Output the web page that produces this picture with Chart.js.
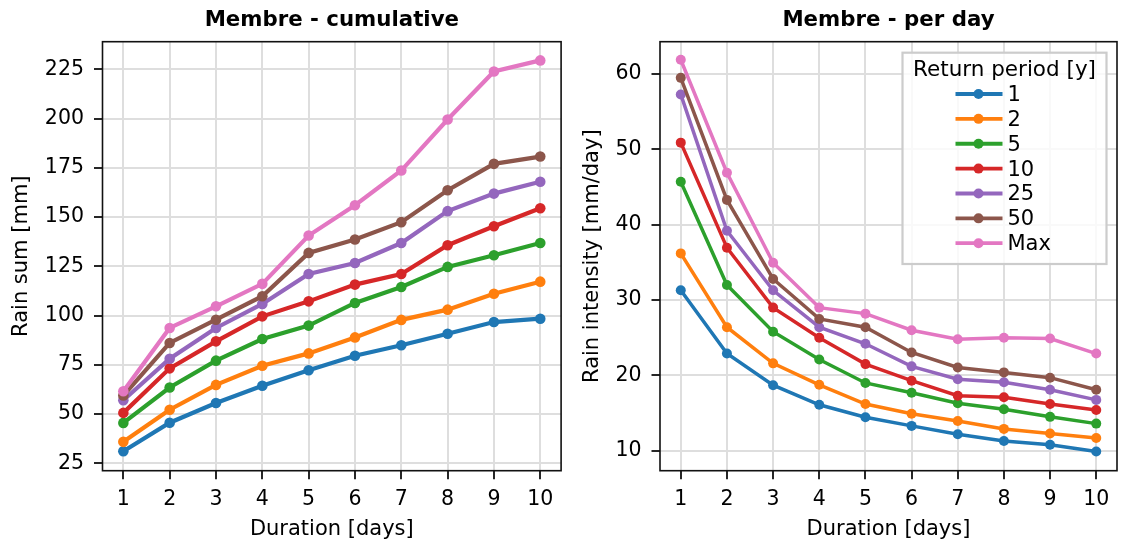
<!DOCTYPE html>
<html><head><meta charset="utf-8">
<script src="https://cdn.jsdelivr.net/npm/chart.js@4.4.1/dist/chart.umd.min.js"></script>
<style>
html,body{margin:0;padding:0;background:#fff;overflow:hidden}
#wrap{position:relative;width:1122px;height:547px;background:#fff}
canvas{position:absolute;top:0}
</style></head><body>
<div id="wrap">
<canvas id="c1" width="570" height="547" style="left:0"></canvas>
<canvas id="c2" width="552" height="547" style="left:570px"></canvas>
</div>
<script>
// ---------- data ----------
const days = [1,2,3,4,5,6,7,8,9,10];
const returnPeriods = ['1','2','5','10','25','50','Max'];
const colors = ['#1f77b4','#ff7f0e','#2ca02c','#d62728','#9467bd','#8c564b','#e377c2'];

// cumulative rain sum [mm]
const cum_1   = [31.1, 45.6, 55.6, 64.4, 72.2, 79.6, 84.9, 90.8, 96.7, 98.4];
const cum_2   = [35.9, 52.2, 64.8, 74.5, 80.8, 88.9, 97.8, 103.0, 111.1, 117.2];
const cum_5   = [45.5, 63.5, 77.1, 88.1, 94.9, 106.4, 114.5, 124.7, 130.6, 136.8];
const cum_10  = [50.6, 73.2, 86.9, 99.6, 107.2, 115.7, 121.1, 135.7, 145.3, 154.5];
const cum_25  = [57.0, 78.1, 93.7, 105.9, 121.1, 126.7, 136.8, 153.0, 161.9, 167.9];
const cum_50  = [59.4, 86.1, 97.9, 109.8, 131.8, 138.6, 147.4, 163.6, 177.0, 180.7];
const cum_max = [61.6, 93.7, 104.7, 116.1, 140.6, 156.0, 173.6, 199.5, 223.9, 229.5];

// rain intensity per day [mm/day]
const day_1   = [31.3, 22.9, 18.7, 16.1, 14.45, 13.3, 12.2, 11.3, 10.8, 9.9];
const day_2   = [36.2, 26.4, 21.6, 18.75, 16.2, 14.9, 13.95, 12.9, 12.3, 11.7];
const day_5   = [45.7, 32.0, 25.8, 22.1, 19.0, 17.7, 16.3, 15.5, 14.5, 13.6];
const day_10  = [50.9, 36.95, 29.0, 25.0, 21.5, 19.3, 17.3, 17.1, 16.2, 15.4];
const day_25  = [57.3, 39.2, 31.3, 26.4, 24.2, 21.2, 19.5, 19.1, 18.1, 16.75];
const day_50  = [59.5, 43.3, 32.8, 27.5, 26.4, 23.05, 21.05, 20.4, 19.7, 18.1];
const day_max = [61.9, 46.9, 34.95, 29.0, 28.2, 26.0, 24.8, 25.0, 24.9, 22.9];

const xTicks = [1,2,3,4,5,6,7,8,9,10];
const yTicksCum = [25,50,75,100,125,150,175,200,225];
const yTicksDay = [10,20,30,40,50,60];

// ---------- style ----------
const FONT = "'DejaVu Sans', sans-serif";
const GRID = '#dedede';

function buildSets(arrays, lw, pr){
  return returnPeriods.map((rp,i)=>({
    label: rp,
    data: days.map((d,j)=>({x:d, y:arrays[i][j]})),
    borderColor: colors[i], backgroundColor: colors[i],
    pointBackgroundColor: colors[i], pointBorderColor: colors[i],
    borderWidth: lw, pointRadius: pr, pointHoverRadius: pr, pointBorderWidth: 0,
    tension: 0, fill: false, order: returnPeriods.length - i
  }));
}

const framePlugin = {
  id:'frame',
  afterDatasetsDraw(chart){
    const {ctx, chartArea:a} = chart;
    ctx.save();
    ctx.strokeStyle = '#111'; ctx.lineWidth = 1.6;
    ctx.strokeRect(a.left, a.top, a.right-a.left, a.bottom-a.top);
    ctx.restore();
  }
};
const titlePlugin = {
  id:'ptitle',
  afterDraw(chart, args, opts){
    const {ctx, chartArea:a} = chart;
    ctx.save();
    ctx.font = 'bold 21.3px ' + FONT;
    ctx.fillStyle = '#000'; ctx.textAlign = 'center'; ctx.textBaseline = 'alphabetic';
    ctx.fillText(opts.text, (a.left+a.right)/2, 26);
    ctx.restore();
  }
};
const legendPlugin = {
  id:'rpLegend',
  afterDatasetsDraw(chart, args, opts){
    if(!opts.show) return;
    const {ctx, chartArea:a} = chart;
    const w = 204, h = 211.3;
    const right = a.right - 10.5, left = right - w, top = a.top + 11;
    const cx = left + w/2;
    ctx.save();
    ctx.fillStyle = 'rgba(255,255,255,0.8)';
    ctx.fillRect(left, top, w, h);
    ctx.strokeStyle = '#cccccc'; ctx.lineWidth = 2.2;
    ctx.strokeRect(left, top, w, h);
    ctx.fillStyle = '#000';
    ctx.textBaseline = 'middle';
    ctx.textAlign = 'center';
    ctx.font = '21.5px ' + FONT;
    ctx.fillText('Return period [y]', cx, top + 17.5);
    ctx.textAlign = 'left';
    ctx.font = '21px ' + FONT;
    chart.data.datasets.forEach((ds, i)=>{
      const y = top + 41.3 + i*24.87;
      ctx.strokeStyle = ds.borderColor; ctx.lineWidth = 3.8;
      ctx.beginPath(); ctx.moveTo(cx-49, y); ctx.lineTo(cx-2, y); ctx.stroke();
      ctx.fillStyle = ds.borderColor;
      ctx.beginPath(); ctx.arc(cx-26, y, 5, 0, Math.PI*2); ctx.fill();
      ctx.fillStyle = '#000';
      ctx.fillText(ds.label, cx+3, y+1.5);
    });
    ctx.restore();
  }
};

function makeOptions(cfg){
  return {
    responsive:false, animation:false, devicePixelRatio:1,
    events:[],
    layout:{padding:{left:0, right:cfg.padRight, top:41.7, bottom:0}},
    plugins:{
      legend:{display:false}, title:{display:false}, tooltip:{enabled:false},
      ptitle:{text:cfg.title},
      rpLegend:{show:cfg.legend}
    },
    scales:{
      x:{
        type:'linear', min:0.55, max:10.45,
        afterBuildTicks:s=>{ s.ticks = xTicks.map(v=>({value:v})); },
        afterFit:s=>{ s.height = 76.3; },
        grid:{color:GRID, lineWidth:2, tickColor:'#000', tickLength:8.5, tickWidth:1.7},
        border:{display:false},
        ticks:{font:{family:FONT, size:20.5}, color:'#000', padding:8.5, maxRotation:0, callback:v=>String(v)},
        title:{display:true, text:'Duration [days]', color:'#000', font:{family:FONT, size:21}, padding:{top:0, bottom:4.4}}
      },
      y:{
        type:'linear', min:cfg.ymin, max:cfg.ymax,
        afterBuildTicks:s=>{ s.ticks = cfg.yticks.map(v=>({value:v})); },
        afterFit:s=>{ s.width = cfg.yWidth; },
        grid:{color:GRID, lineWidth:2, tickColor:'#000', tickLength:8.5, tickWidth:1.7},
        border:{display:false},
        ticks:{font:{family:FONT, size:20.5}, color:'#000', padding:10, callback:v=>String(v)},
        title:{display:true, text:cfg.ytitle, color:'#000', font:{family:FONT, size:21}, padding:{top:cfg.ytitlePad, bottom:0}}
      }
    }
  };
}

new Chart(document.getElementById('c1'), {
  type:'line',
  data:{datasets: buildSets([cum_1,cum_2,cum_5,cum_10,cum_25,cum_50,cum_max], 4.2, 5.3)},
  options: makeOptions({title:'Membre - cumulative', ymin:21.25, ymax:239, yticks:yTicksCum,
    yWidth:102.5, padRight:8.9, ytitle:'Rain sum [mm]', ytitlePad:9.4, legend:false}),
  plugins:[framePlugin, titlePlugin, legendPlugin]
});
new Chart(document.getElementById('c2'), {
  type:'line',
  data:{datasets: buildSets([day_1,day_2,day_5,day_10,day_25,day_50,day_max], 3.5, 5)},
  options: makeOptions({title:'Membre - per day', ymin:7.35, ymax:64.3, yticks:yTicksDay,
    yWidth:90, padRight:2.5, ytitle:'Rain intensity [mm/day]', ytitlePad:10.4, legend:true}),
  plugins:[framePlugin, titlePlugin, legendPlugin]
});
</script>
</body></html>
